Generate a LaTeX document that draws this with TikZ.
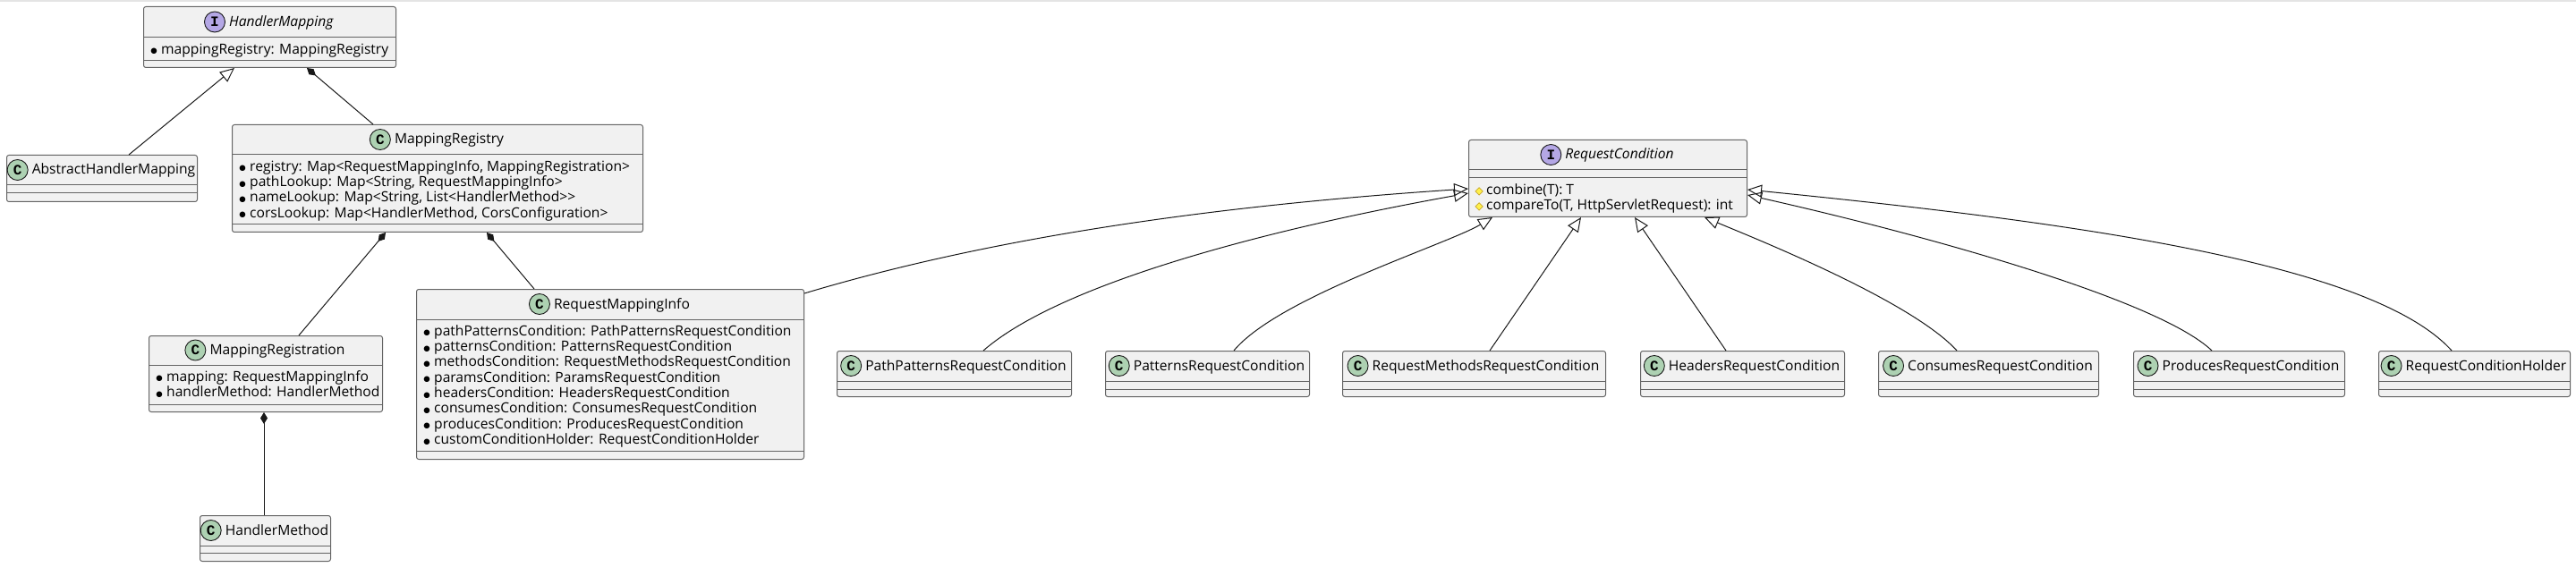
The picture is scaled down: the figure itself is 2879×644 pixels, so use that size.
\documentclass[tikz,border=0pt]{standalone}
\usepackage{fontspec}
\setmainfont{Open Sans}
\newfontfamily\badgefont{Liberation Mono}
\newfontfamily\symbfont{DejaVu Sans}
\usetikzlibrary{arrows.meta}

\definecolor{classfill}{HTML}{F1F1F1}
\definecolor{classline}{HTML}{181818}
\definecolor{boxline}{HTML}{646464}
\definecolor{classgreen}{HTML}{ADD1B2}
\definecolor{ifacepurple}{HTML}{B4A7E5}
\definecolor{protfill}{HTML}{FFF04A}
\definecolor{protline}{HTML}{B38D22}
\definecolor{bandgray}{HTML}{E4E4E4}

\newcommand{\pubmark}{{\symbfont\fontsize{8.5}{8.5}\selectfont\raisebox{0.4pt}{●}}}
\newcommand{\protmark}{\rlap{\symbfont\fontsize{12}{12}\selectfont\color{protfill}◆}{\symbfont\fontsize{12}{12}\selectfont\color{protline}◇}}

\tikzset{
  umlbox/.style={draw=boxline, fill=classfill, line width=1pt, rounded corners=2.5pt, inner sep=0pt},
  sepline/.style={draw=boxline, line width=1pt},
  heading/.style={inner sep=0pt, text height=12pt, text depth=2pt, font=\fontsize{15.6}{17.3}\selectfont},
  member/.style={inner sep=0pt, anchor=base west, font=\fontsize{15.6}{17.3}\selectfont},
  badge/.style={circle, draw=classline, line width=0.9pt, minimum size=23pt, inner sep=0pt, font=\badgefont\bfseries\fontsize{16}{16}\selectfont},
  badgeC/.style={badge, fill=classgreen},
  badgeI/.style={badge, fill=ifacepurple},
  extends/.style={draw=classline, line width=1pt, -{Triangle[open, length=16pt, width=14pt]}},
  owns/.style={draw=classline, line width=1pt, {Diamond[length=13pt, width=8pt]}-},
}

% box, separators and heading of a class
\newcommand{\umlclass}[9]{%
  \node[umlbox, anchor=north west, minimum width=#4-#2, minimum height=#5-#3] (#1) at (#2,#3) {};
  \draw[sepline] (#2,#6) -- (#4,#6) (#2,#7) -- (#4,#7);
  \node[heading, label={[badge#8, label distance=4pt]left:#8}] (#1-title) at ({(#2+#4)/2+13.5},{(#3+#6)/2}) {#9};
}
% one line per member
\newcommand{\umlmembers}[5]{%
  \foreach \m [count=\i] in {#5}
    \node[member] (#1-m\i) at (#2+4,{#3+1+17.3*\i}) {\makebox[16pt]{#4}\m};
}

\begin{document}
\begin{tikzpicture}[x=1pt, y=-1pt]
\useasboundingbox (0,0) rectangle (2879,644);
\fill[bandgray] (0,0) rectangle (2879,2.5);

% left part
\umlclass{hm}{160}{7}{442}{75}{42}{68}{I}{\textit{HandlerMapping}}
\umlclass{ahm}{7}{173}{220}{225}{207}{216}{C}{AbstractHandlerMapping}
\umlclass{mr}{259}{139}{718}{259}{173}{251}{C}{MappingRegistry}
\umlclass{mreg}{166}{375}{427}{460}{408}{452}{C}{MappingRegistration}
\umlclass{hmeth}{223}{576}{369}{627}{610}{618}{C}{HandlerMethod}
\umlclass{rmi}{465}{323}{898}{513}{357}{504}{C}{RequestMappingInfo}

\umlmembers{hm}{160}{42}{\pubmark}{{mappingRegistry: MappingRegistry}}
\umlmembers{mr}{259}{173}{\pubmark}{{registry: Map<RequestMappingInfo, MappingRegistration>},
  {pathLookup: Map<String, RequestMappingInfo>},
  {nameLookup: Map<String, List<HandlerMethod>{}>},
  {corsLookup: Map<HandlerMethod, CorsConfiguration>}}
\umlmembers{mreg}{166}{408}{\pubmark}{{mapping: RequestMappingInfo},{handlerMethod: HandlerMethod}}
\umlmembers{rmi}{465}{357}{\pubmark}{{pathPatternsCondition: PathPatternsRequestCondition},
  {patternsCondition: PatternsRequestCondition},
  {methodsCondition: RequestMethodsRequestCondition},
  {paramsCondition: ParamsRequestCondition},
  {headersCondition: HeadersRequestCondition},
  {consumesCondition: ConsumesRequestCondition},
  {producesCondition: ProducesRequestCondition},
  {customConditionHolder: RequestConditionHolder}}

% right part
\umlclass{rc}{1641}{156}{1952}{242}{190}{199}{I}{\textit{RequestCondition}}
\umlmembers{rc}{1641}{199}{\protmark}{{combine(T): T},{compareTo(T, HttpServletRequest): int}}

\foreach \n/\l/\r/\t in {ppc/935/1197/PathPatternsRequestCondition,
    pc/1235/1463/PatternsRequestCondition,
    rmc/1500/1794/RequestMethodsRequestCondition,
    hc/1833/2061/HeadersRequestCondition,
    cc/2099/2345/ConsumesRequestCondition,
    prc/2384/2620/ProducesRequestCondition,
    rch/2658/2872/RequestConditionHolder}
  \umlclass{\n}{\l}{392}{\r}{443}{426}{435}{C}{\t};

% connectors
\draw[extends] ([xshift=137pt]ahm.north west) -- ([xshift=102pt]hm.south west);
\draw[owns] ([xshift=183pt]hm.south west) -- ([xshift=158pt]mr.north west);
\draw[owns] ([xshift=172pt]mr.south west) -- ([xshift=168pt]mreg.north west);
\draw[owns] ([xshift=285pt]mr.south west) -- ([xshift=132pt]rmi.north west);
\draw[owns] ([xshift=129pt]mreg.south west) -- ([xshift=72pt]hmeth.north west);

\draw[extends] ([yshift=-5pt]rmi.north east) .. controls +(200,-60) and +(-300,20) .. ([yshift=-55pt]rc.north west);
\draw[extends] ([xshift=164pt]ppc.north west) .. controls +(80,-70) and +(-250,45) .. ([yshift=-60pt]rc.north west);
\draw[extends] ([xshift=144pt]pc.north west) .. controls +(50,-60) and +(-50,30) .. ([xshift=27pt]rc.south west);
\draw[extends] ([xshift=165pt]rmc.north west) -- ([xshift=126pt]rc.south west);
\draw[extends] ([xshift=96pt]hc.north west) -- ([xshift=186pt]rc.south west);
\draw[extends] ([xshift=88pt]cc.north west) .. controls +(-50,-55) and +(60,25) .. ([xshift=264pt]rc.south west);
\draw[extends] ([xshift=88pt]prc.north west) .. controls +(-60,-57) and +(200,45) .. ([yshift=-62pt]rc.north east);
\draw[extends] ([xshift=82pt]rch.north west) .. controls +(-90,-100) and +(350,35) .. ([yshift=-56pt]rc.north east);
\end{tikzpicture}
\end{document}
